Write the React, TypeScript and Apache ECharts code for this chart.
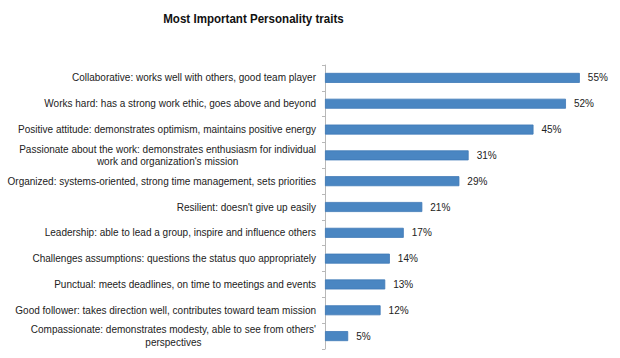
import React, { useEffect, useRef } from "react";
import * as echarts from "echarts";

const titleText = "Most Important Personality traits";

const categories: string[] = [
  "Collaborative: works well with others, good team player",
  "Works hard: has a strong work ethic, goes above and beyond",
  "Positive attitude: demonstrates optimism, maintains positive energy",
  "Passionate about the work: demonstrates enthusiasm for individual\nwork and organization's mission",
  "Organized: systems-oriented, strong time management, sets priorities",
  "Resilient: doesn't give up easily",
  "Leadership: able to lead a group, inspire and influence others",
  "Challenges assumptions: questions the status quo appropriately",
  "Punctual: meets deadlines, on time to meetings and events",
  "Good follower: takes direction well, contributes toward team mission",
  "Compassionate: demonstrates modesty, able to see from others'\nperspectives",
];

const values: number[] = [55, 52, 45, 31, 29, 21, 17, 14, 13, 12, 5];

const FONT = "Liberation Sans";

export default function App() {
  const ref = useRef<HTMLDivElement>(null);
  useEffect(() => {
    if (!ref.current) return;
    const chart = echarts.init(ref.current, null, { renderer: "svg" });
    chart.setOption({
      animation: false,
      backgroundColor: "#ffffff",
      graphic: [
        {
          type: "text",
          x: 253.5,
          y: 19,
          scaleX: 0.89,
          style: {
            text: titleText,
            fontFamily: FONT,
            fontSize: 13,
            fontWeight: "bold",
            fill: "#111",
            textAlign: "center",
            textVerticalAlign: "middle",
          },
        },
      ],
      grid: { left: 325, right: 17, top: 65, bottom: 9, containLabel: false, outerBoundsMode: "none" },
      xAxis: {
        type: "value",
        min: 0,
        max: 60,
        show: false,
      },
      yAxis: {
        type: "category",
        data: categories,
        inverse: true,
        axisLine: { show: true, lineStyle: { color: "#b8b8b8", width: 1 } },
        axisTick: { show: true, length: 3, lineStyle: { color: "#b8b8b8" } },
        axisLabel: {
          margin: 9,
          align: "right",
          fontFamily: FONT,
          fontSize: 10,
          color: "#222",
          formatter: (v: string) =>
            v
              .split("\n")
              .map((s) => "{c|" + s + "}")
              .join("\n"),
          rich: {
            c: { align: "center", fontFamily: FONT, fontSize: 10, color: "#222", lineHeight: 12.5 },
          },
        },
        splitLine: { show: false },
      },
      series: [
        {
          type: "bar",
          data: values,
          barWidth: 10,
          itemStyle: { color: "#4a86c2", borderColor: "#3f79b6", borderWidth: 0.8 },
          label: {
            show: true,
            position: "right",
            distance: 8,
            formatter: "{c}%",
            fontFamily: FONT,
            fontSize: 10,
            color: "#222",
          },
        },
      ],
    });
    return () => chart.dispose();
  }, []);
  return <div ref={ref} style={{ width: 620, height: 358, position: "absolute", left: 0, top: 0 }} />;
}
